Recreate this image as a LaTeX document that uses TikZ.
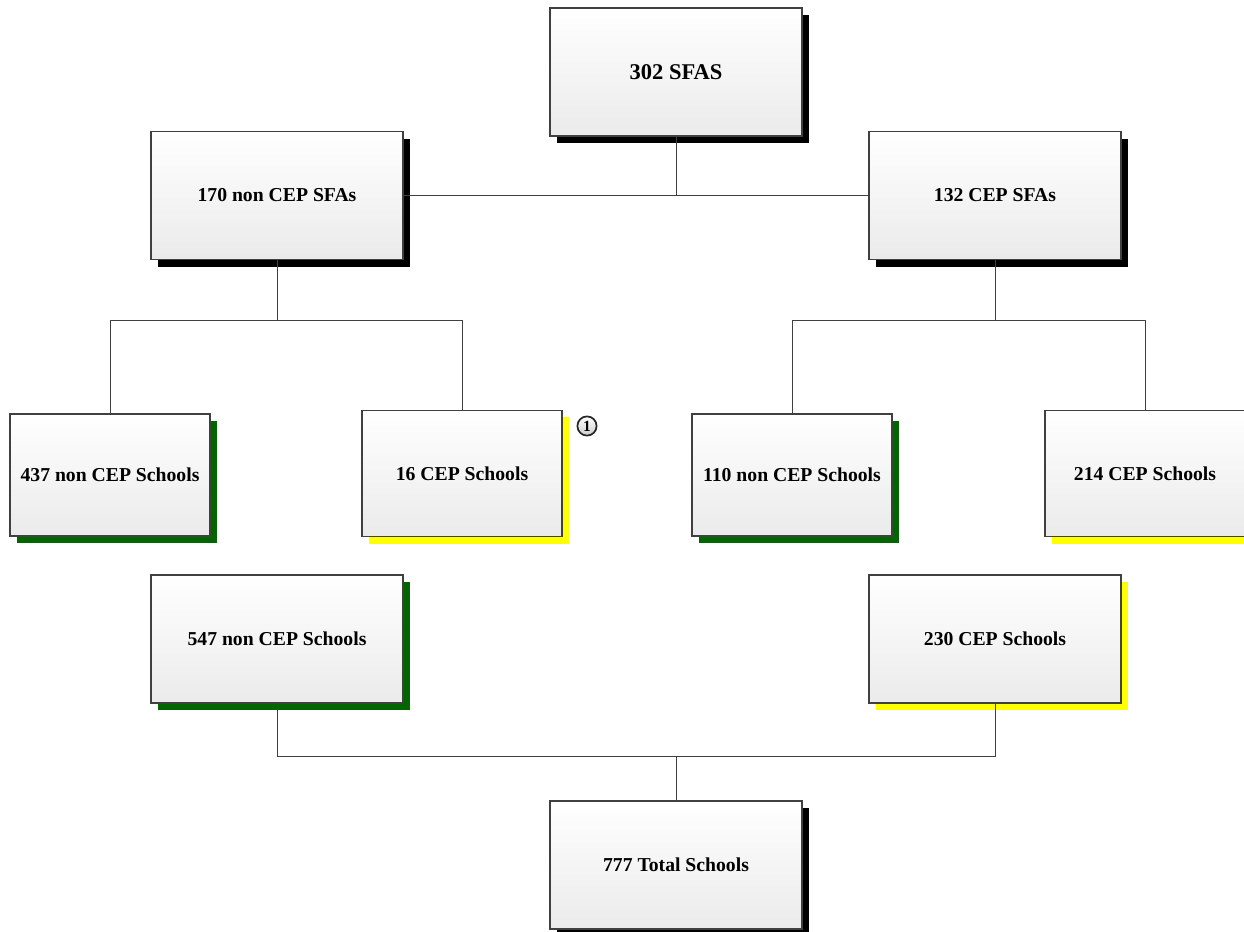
\documentclass[tikz,border=0pt]{standalone}
\usepackage{fontspec}
\setmainfont{Liberation Serif}
\usetikzlibrary{shadows}

\definecolor{shadegreen}{RGB}{0,102,0}
\definecolor{shadeyellow}{RGB}{255,255,0}

\tikzset{
    box/.style={draw=black!75, line width=0.8pt, top color=white, bottom color=black!8,
        font=\fontsize{14}{16}\selectfont\bfseries, align=center,
        minimum width=6.3cm, minimum height=3.2cm, inner sep=0pt},
    smallbox/.style={box, minimum width=5cm, minimum height=3.05cm},
    blackshadow/.style={drop shadow={shadow xshift=0.18cm, shadow yshift=-0.18cm, fill=black, opacity=1}},
    greenshadow/.style={drop shadow={shadow xshift=0.18cm, shadow yshift=-0.18cm, fill=shadegreen, opacity=1}},
    yellowshadow/.style={drop shadow={shadow xshift=0.18cm, shadow yshift=-0.18cm, fill=shadeyellow, opacity=1}},
    link/.style={draw=black!75, line width=0.7pt},
    note/.style={circle, draw=black!85, line width=1.2pt, top color=white, bottom color=black!20,
        minimum size=0.48cm, inner sep=0pt, font=\fontsize{11}{11}\selectfont\bfseries}
}

\begin{document}
\begin{tikzpicture}[x=0.025cm, y=-0.025cm]
    \useasboundingbox (0,0) rectangle (1244,932);

    % SFA level
    \node[box, blackshadow, font=\fontsize{16}{18}\selectfont\bfseries] (sfas) at (676,72) {302 SFAS};
    \node[box, blackshadow] (noncepsfa) at (277,195.5) {170 non CEP SFAs};
    \node[box, blackshadow] (cepsfa) at (995,195.5) {132 CEP SFAs};

    % school level
    \node[smallbox, greenshadow] (noncep437) at (110,475) {437 non CEP Schools};
    \node[smallbox, yellowshadow, minimum height=3.17cm] (cep16) at (462,473.5) {16 CEP Schools};
    \node[smallbox, greenshadow] (noncep110) at (792,475) {110 non CEP Schools};
    \node[smallbox, yellowshadow, minimum height=3.17cm] (cep214) at (1145,473.5) {214 CEP Schools};
    \node[note] (one) at (587,426) {1};

    % totals
    \node[box, greenshadow] (noncep547) at (277,639) {547 non CEP Schools};
    \node[box, yellowshadow] (cep230) at (995,639) {230 CEP Schools};
    \node[box, blackshadow] (total) at (676,865) {777 Total Schools};

    \draw[link] (sfas.south) |- (noncepsfa.east);
    \draw[link] (sfas.south) |- (cepsfa.west);

    \draw[link] (noncepsfa.south) -- ++(0,60) -| (noncep437.north);
    \draw[link] (noncepsfa.south) -- ++(0,60) -| (cep16.north);
    \draw[link] (cepsfa.south) -- ++(0,60) -| (noncep110.north);
    \draw[link] (cepsfa.south) -- ++(0,60) -| (cep214.north);

    \draw[link] (noncep547.south) -- ++(0,53) -| (total.north);
    \draw[link] (cep230.south) -- ++(0,53) -| (total.north);
\end{tikzpicture}
\end{document}
